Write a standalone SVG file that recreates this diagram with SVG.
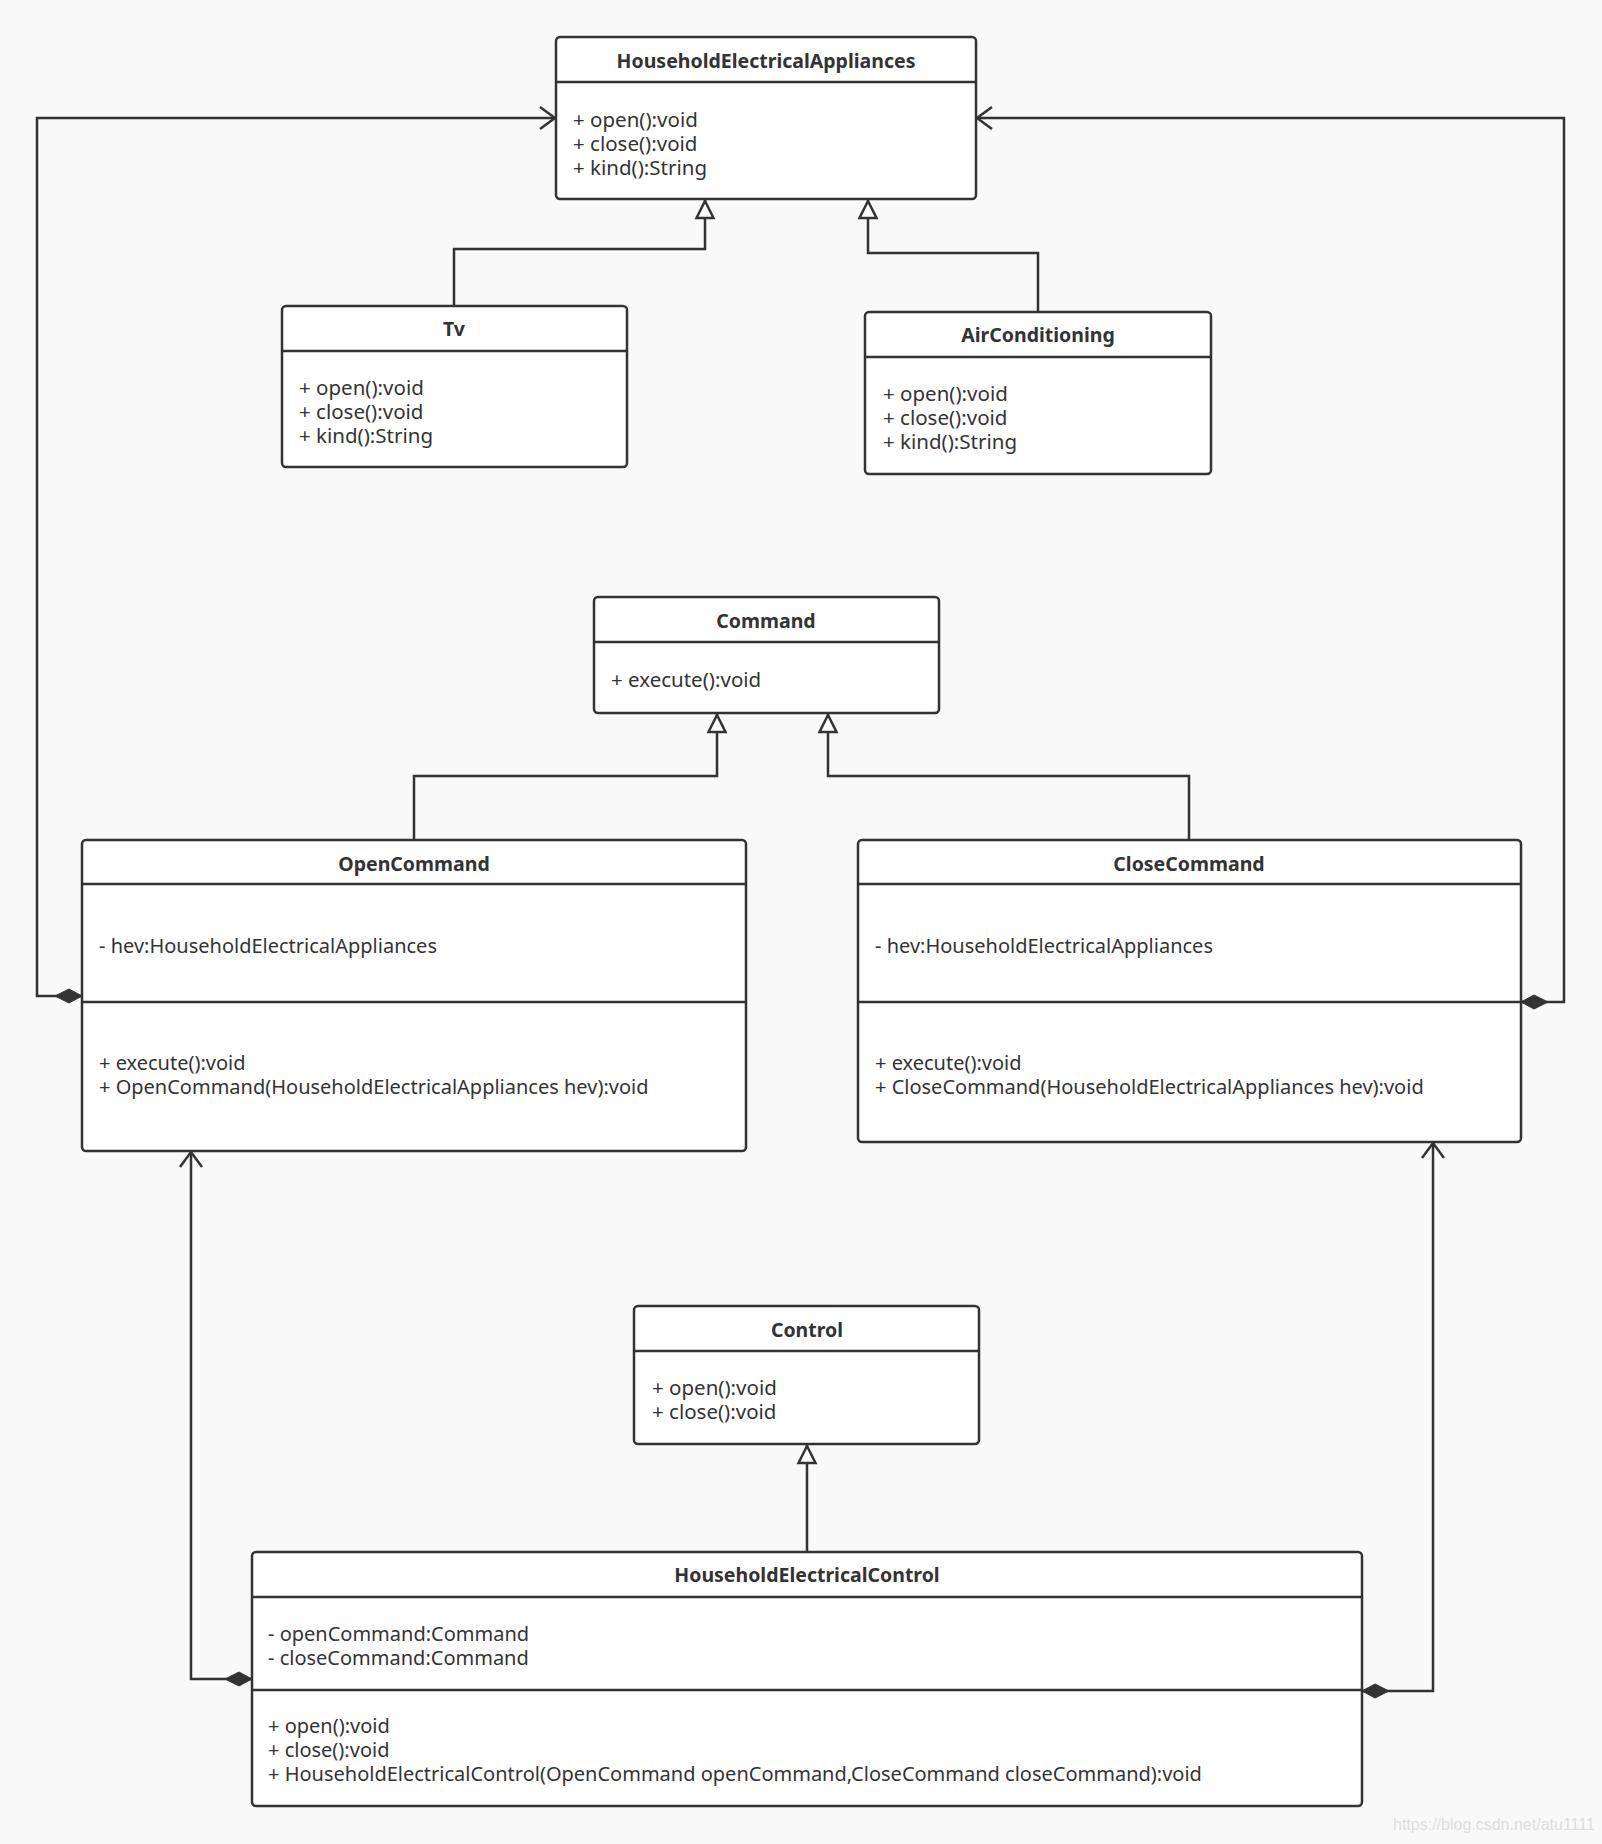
<svg xmlns="http://www.w3.org/2000/svg" width="1602" height="1844" viewBox="0 0 1602 1844">
<defs>
<style>
.box{fill:#fff;stroke:#333;stroke-width:2.5}
.sep{stroke:#333;stroke-width:2.5}
.t{font-family:"Noto Sans","Open Sans",sans-serif;font-size:20px;fill:#333}
.s{font-size:20.5px}
.h{font-family:"Noto Sans","Open Sans",sans-serif;font-size:19.5px;font-weight:bold;fill:#333;text-anchor:middle}
.c{fill:none;stroke:#333;stroke-width:2.5}
.wm{font-family:"Liberation Sans",Arial,sans-serif;font-size:16px;fill:#ddd}
</style>
<marker id="tri" markerUnits="userSpaceOnUse" markerWidth="26" markerHeight="26" viewBox="-22 -13 26 26" refX="0" refY="0" orient="auto">
<path d="M-1,0 L-18,-8.5 L-18,8.5 Z" fill="#fff" stroke="#333" stroke-width="2.5"/>
</marker>
<marker id="open" markerUnits="userSpaceOnUse" markerWidth="26" markerHeight="30" viewBox="-22 -15 26 30" refX="0" refY="0" orient="auto">
<path d="M-15,-11 L0,0 L-15,11" fill="none" stroke="#333" stroke-width="2.5"/>
</marker>
<marker id="dia" markerUnits="userSpaceOnUse" markerWidth="32" markerHeight="20" viewBox="-2 -10 32 20" refX="0" refY="0" orient="auto">
<path d="M0,0 L13,-7 L27,0 L13,7 Z" fill="#333" stroke="#333" stroke-width="1"/>
</marker>
</defs>
<rect width="1602" height="1844" fill="#f9f9f9"/>

<g id="connectors">
<path class="c" d="M82,996 H37 V118 H555" marker-start="url(#dia)" marker-end="url(#open)"/>
<path class="c" d="M1521,1002 H1564 V118 H977" marker-start="url(#dia)" marker-end="url(#open)"/>
<path class="c" d="M454,306 V249 H705 V200" marker-end="url(#tri)"/>
<path class="c" d="M1038,312 V253 H868 V200" marker-end="url(#tri)"/>
<path class="c" d="M414,840 V776 H717 V714" marker-end="url(#tri)"/>
<path class="c" d="M1189,840 V776 H828 V714" marker-end="url(#tri)"/>
<path class="c" d="M807,1552 V1445" marker-end="url(#tri)"/>
<path class="c" d="M252,1679 H191 V1152" marker-start="url(#dia)" marker-end="url(#open)"/>
<path class="c" d="M1362,1691 H1433 V1143" marker-start="url(#dia)" marker-end="url(#open)"/>
</g>

<g id="HouseholdElectricalAppliances">
<rect class="box" x="556" y="37" width="420" height="162" rx="4"/>
<line class="sep" x1="556" y1="82" x2="976" y2="82"/>
<text class="h" x="766" y="68">HouseholdElectricalAppliances</text>
<text class="t s" x="573" y="127">+ open():void</text>
<text class="t s" x="573" y="151">+ close():void</text>
<text class="t s" x="573" y="175">+ kind():String</text>
</g>

<g id="Tv">
<rect class="box" x="282" y="306" width="345" height="161" rx="4"/>
<line class="sep" x1="282" y1="351" x2="627" y2="351"/>
<text class="h" x="454" y="336">Tv</text>
<text class="t s" x="299" y="395">+ open():void</text>
<text class="t s" x="299" y="419">+ close():void</text>
<text class="t s" x="299" y="443">+ kind():String</text>
</g>

<g id="AirConditioning">
<rect class="box" x="865" y="312" width="346" height="162" rx="4"/>
<line class="sep" x1="865" y1="357" x2="1211" y2="357"/>
<text class="h" x="1038" y="342">AirConditioning</text>
<text class="t s" x="883" y="401">+ open():void</text>
<text class="t s" x="883" y="425">+ close():void</text>
<text class="t s" x="883" y="449">+ kind():String</text>
</g>

<g id="Command">
<rect class="box" x="594" y="597" width="345" height="116" rx="4"/>
<line class="sep" x1="594" y1="642" x2="939" y2="642"/>
<text class="h" x="766" y="628">Command</text>
<text class="t s" x="611" y="687">+ execute():void</text>
</g>

<g id="OpenCommand">
<rect class="box" x="82" y="840" width="664" height="311" rx="4"/>
<line class="sep" x1="82" y1="884" x2="746" y2="884"/>
<line class="sep" x1="82" y1="1002" x2="746" y2="1002"/>
<text class="h" x="414" y="871">OpenCommand</text>
<text class="t" x="99" y="953">- hev:HouseholdElectricalAppliances</text>
<text class="t" x="99" y="1070">+ execute():void</text>
<text class="t" x="99" y="1094">+ OpenCommand(HouseholdElectricalAppliances hev):void</text>
</g>

<g id="CloseCommand">
<rect class="box" x="858" y="840" width="663" height="302" rx="4"/>
<line class="sep" x1="858" y1="884" x2="1521" y2="884"/>
<line class="sep" x1="858" y1="1002" x2="1521" y2="1002"/>
<text class="h" x="1189" y="871">CloseCommand</text>
<text class="t" x="875" y="953">- hev:HouseholdElectricalAppliances</text>
<text class="t" x="875" y="1070">+ execute():void</text>
<text class="t" x="875" y="1094">+ CloseCommand(HouseholdElectricalAppliances hev):void</text>
</g>

<g id="Control">
<rect class="box" x="634" y="1306" width="345" height="138" rx="4"/>
<line class="sep" x1="634" y1="1351" x2="979" y2="1351"/>
<text class="h" x="807" y="1337">Control</text>
<text class="t s" x="652" y="1395">+ open():void</text>
<text class="t s" x="652" y="1419">+ close():void</text>
</g>

<g id="HouseholdElectricalControl">
<rect class="box" x="252" y="1552" width="1110" height="254" rx="4"/>
<line class="sep" x1="252" y1="1597" x2="1362" y2="1597"/>
<line class="sep" x1="252" y1="1690" x2="1362" y2="1690"/>
<text class="h" x="807" y="1582">HouseholdElectricalControl</text>
<text class="t" x="268" y="1641">- openCommand:Command</text>
<text class="t" x="268" y="1665">- closeCommand:Command</text>
<text class="t" x="268" y="1733">+ open():void</text>
<text class="t" x="268" y="1757">+ close():void</text>
<text class="t" x="268" y="1781">+ HouseholdElectricalControl(OpenCommand openCommand,CloseCommand closeCommand):void</text>
</g>

<text class="wm" x="1393" y="1830">https://blog.csdn.net/atu1111</text>
</svg>
